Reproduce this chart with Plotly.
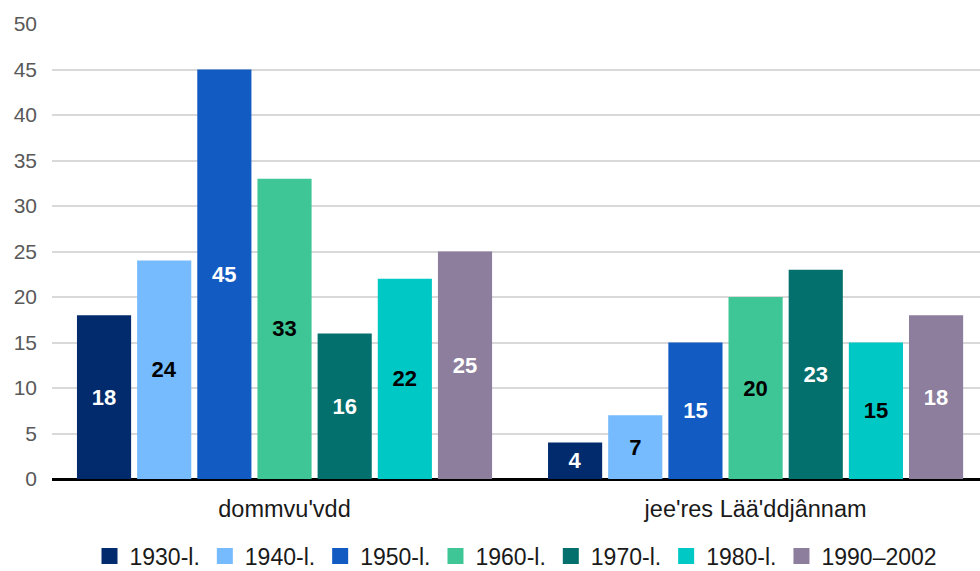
import plotly.graph_objects as go

categories = ["dommvu'vdd", "jee'res Lää'ddjânnam"]
series_names = ["1930-l.", "1940-l.", "1950-l.", "1960-l.", "1970-l.", "1980-l.", "1990–2002"]
series_values = [
    [18, 4],
    [24, 7],
    [45, 15],
    [33, 20],
    [16, 23],
    [22, 15],
    [25, 18],
]
colors = ["#022B6D", "#76BBFD", "#125BC2", "#3EC696", "#04706D", "#00C8C5", "#8D7E9E"]
label_colors = ["white", "black", "white", "black", "white", "black", "white"]
y_ticks = [0, 5, 10, 15, 20, 25, 30, 35, 40, 45, 50]

fig = go.Figure()
xpos = list(range(len(categories)))
for name, vals, c, lc in zip(series_names, series_values, colors, label_colors):
    fig.add_trace(go.Bar(
        name=name, x=xpos, y=vals, marker=dict(color=c, line=dict(width=0)),
        text=[str(v) for v in vals], textposition="inside", insidetextanchor="middle",
        textangle=0, showlegend=False,
        textfont=dict(family="Liberation Sans, Arial", size=22, color=lc, weight="bold"),
        cliponaxis=False,
    ))
# legend proxies (larger square symbols)
for name, c in zip(series_names, colors):
    fig.add_trace(go.Scatter(
        name=name, x=[None], y=[None], mode="markers",
        marker=dict(symbol="square", size=20, color=c), showlegend=True,
    ))

fig.update_layout(
    width=980, height=571,
    margin=dict(l=52, r=0, t=24, b=92, autoexpand=False),
    paper_bgcolor="white", plot_bgcolor="white",
    barmode="group", bargap=0.106, bargroupgap=0.10,
    font=dict(family="Liberation Sans, Arial", size=21, color="#595959"),
    uniformtext=dict(mode=False),
    xaxis=dict(
        range=[-0.4936, 1.4764], tickvals=xpos, ticktext=categories,
        showgrid=False, showline=False, zeroline=False, automargin=False,
        tickfont=dict(size=23.5, color="#1a1a1a"), ticks="", ticklabelstandoff=13,
    ),
    yaxis=dict(
        range=[0, 50], tickvals=y_ticks, showgrid=True, gridcolor="#D9D9D9", gridwidth=1.5,
        zeroline=True, zerolinecolor="black", zerolinewidth=3, automargin=False,
        tickfont=dict(size=21, color="#595959"), ticklabelstandoff=14, showline=False,
    ),
    legend=dict(
        orientation="h", x=0.5, xanchor="center", xref="paper",
        y=0.026, yanchor="middle", yref="container",
        font=dict(size=23, color="#1a1a1a"), traceorder="normal",
        itemwidth=30, bgcolor="rgba(0,0,0,0)",
    ),
)

fig.write_html("out.html", config={"displayModeBar": False},
               post_script="document.body.style.margin='0';document.body.style.overflow='hidden';")
